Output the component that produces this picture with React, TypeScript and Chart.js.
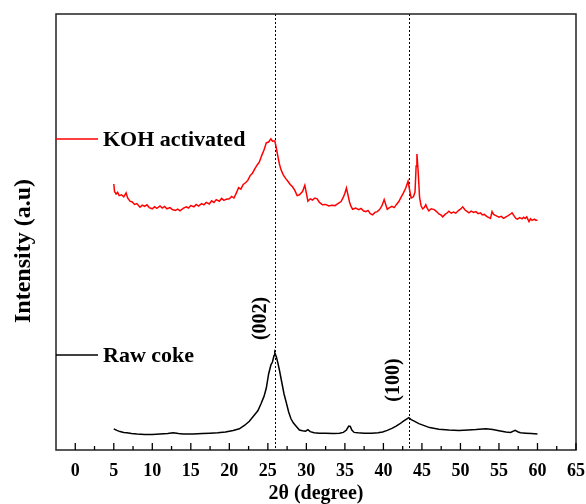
import { useEffect, useRef } from 'react';
import { Chart, registerables } from 'chart.js';

Chart.register(...registerables);

const FONT = "'Liberation Serif', 'Times New Roman', serif";

// X axis ticks (2θ, degree)
const xTickValues = [0, 5, 10, 15, 20, 25, 30, 35, 40, 45, 50, 55, 60, 65];
const xMinorTickValues = [2.5, 7.5, 12.5, 17.5, 22.5, 27.5, 32.5, 37.5, 42.5, 47.5, 52.5, 57.5, 62.5];

// KOH activated series
const kohTheta = [
  5.0, 5.1, 5.3, 5.5, 5.7, 6.0, 6.3, 6.6, 6.8, 7.1, 7.4, 7.7, 8.0, 8.4, 8.7, 9.0, 9.3, 9.6, 10.0, 10.3,
  10.6, 11.0, 11.3, 11.6, 11.9, 12.3, 12.6, 13.0, 13.3, 13.6, 14.0, 14.4, 14.7, 15.0, 15.4, 15.7, 16.0, 16.4, 16.7, 17.0,
  17.4, 17.7, 18.0, 18.3, 18.7, 19.0, 19.3, 19.6, 20.0, 20.3, 20.6, 20.9, 21.2, 21.5, 21.8, 22.1, 22.4, 22.7, 23.0, 23.3,
  23.6, 23.9, 24.2, 24.5, 24.8, 25.1, 25.4, 25.6, 25.9, 26.1, 26.3, 26.5, 26.7, 27.0, 27.3, 27.6, 27.9, 28.2, 28.5, 28.8,
  29.1, 29.5, 29.8, 30.0, 30.2, 30.5, 30.8, 31.1, 31.4, 31.7, 32.1, 32.5, 32.9, 33.3, 33.7, 34.1, 34.5, 34.8, 35.0, 35.2,
  35.4, 35.6, 35.8, 36.0, 36.4, 36.8, 37.1, 37.4, 37.7, 38.0, 38.3, 38.6, 38.9, 39.2, 39.5, 39.8, 40.1, 40.3, 40.5, 40.8,
  41.1, 41.4, 41.7, 42.0, 42.3, 42.6, 42.9, 43.2, 43.4, 43.6, 43.9, 44.1, 44.25, 44.35, 44.5, 44.7, 44.9, 45.1, 45.3, 45.5,
  45.7, 45.9, 46.2, 46.6, 46.9, 47.2, 47.5, 47.7, 48.0, 48.3, 48.5, 48.8, 49.1, 49.4, 49.7, 50.0, 50.3, 50.6, 50.9, 51.1,
  51.4, 51.7, 52.0, 52.3, 52.6, 52.8, 53.1, 53.4, 53.7, 53.9, 54.1, 54.3, 54.6, 55.0, 55.3, 55.6, 55.9, 56.2, 56.5, 56.7,
  57.0, 57.2, 57.4, 57.7, 58.0, 58.2, 58.4, 58.6, 58.9, 59.1, 59.3, 59.6, 59.8, 60.0,
];
const kohIntensity = [
  66.5, 64.6, 64.0, 64.4, 63.6, 63.8, 63.3, 64.3, 63.0, 62.2, 62.0, 61.4, 61.6, 60.7, 61.2, 60.9, 61.3, 60.6, 60.3, 60.8,
  60.4, 61.0, 60.5, 60.9, 60.3, 60.6, 60.1, 59.9, 60.2, 59.8, 60.4, 60.8, 60.5, 61.1, 60.8, 61.4, 61.0, 61.6, 61.3, 61.9,
  61.5, 62.3, 61.9, 62.6, 62.2, 62.9, 62.4, 62.7, 62.8, 63.4, 63.0, 64.2, 65.6, 65.2, 66.4, 66.8, 67.4, 68.6, 69.2, 70.3,
  71.2, 72.0, 73.6, 75.0, 76.8, 77.0, 77.8, 77.2, 77.3, 75.5, 73.4, 71.5, 70.1, 68.8, 67.9, 67.2, 66.4, 65.8, 64.9, 63.6,
  63.8, 64.6, 66.2, 64.2, 62.2, 62.8, 62.5, 63.0, 62.8, 61.9, 61.3, 61.4, 61.0, 61.2, 61.1, 61.6, 62.1, 63.2, 64.2, 65.5,
  63.8, 62.0, 60.9, 60.2, 60.5, 60.1, 60.4, 59.8, 59.6, 59.9, 59.1, 58.8, 59.4, 59.6, 60.1, 61.0, 62.6, 61.4, 60.2, 60.6,
  60.9, 60.6, 61.4, 62.1, 63.2, 64.3, 65.5, 67.2, 65.0, 63.0, 63.3, 64.5, 71.0, 74.0, 70.0, 63.0, 61.0, 60.3, 60.6, 61.3,
  60.4, 59.8, 60.3, 60.1, 59.6, 59.0, 58.7, 58.3, 58.9, 59.3, 59.7, 59.2, 59.5, 59.2, 59.8, 60.2, 60.8, 60.0, 59.6, 59.3,
  59.7, 59.4, 59.6, 59.1, 59.3, 58.8, 58.9, 58.4, 58.1, 57.9, 59.6, 58.9, 58.6, 58.2, 58.4, 57.9, 58.3, 58.6, 59.0, 59.3,
  58.4, 57.9, 57.7, 58.1, 57.8, 58.2, 57.9, 58.3, 57.1, 57.8, 57.4, 57.7, 57.4, 57.5,
];

// Raw coke series
const rawTheta = [
  5.0, 5.4, 5.8, 6.3, 6.7, 7.3, 8.0, 9.0, 10.0, 11.0, 12.0, 12.7, 13.4, 14.0, 15.3, 16.5, 17.5, 18.5, 19.5, 20.5,
  21.3, 22.0, 22.6, 23.2, 23.7, 24.1, 24.5, 24.8, 25.1, 25.4, 25.6, 25.8, 25.9, 26.1, 26.3, 26.5, 26.8, 27.1, 27.4, 27.7,
  28.0, 28.3, 28.7, 29.1, 29.5, 29.9, 30.2, 30.5, 31.0, 31.7, 32.5, 33.5, 34.3, 34.8, 35.2, 35.5, 35.7, 35.9, 36.2, 36.7,
  37.5, 38.5, 39.3, 39.9, 40.5, 41.1, 41.6, 42.1, 42.6, 43.0, 43.3, 43.6, 44.0, 44.6, 45.3, 46.0, 47.2, 48.5, 49.8, 51.0,
  52.0, 53.3, 54.2, 55.0, 55.9, 56.5, 57.1, 57.5, 57.8, 58.5, 59.2, 60.0,
];
const rawIntensity = [
  5.3, 4.9, 4.6, 4.4, 4.3, 4.1, 4.0, 3.9, 3.9, 4.0, 4.1, 4.3, 4.1, 4.0, 4.0, 4.1, 4.2, 4.3, 4.5, 4.9,
  5.3, 6.2, 7.2, 8.6, 9.8, 11.5, 13.4, 15.5, 19.0, 21.3, 22.0, 23.6, 24.3, 23.3, 21.8, 20.0, 17.0, 14.0, 11.8, 9.5,
  7.8, 6.8, 5.9, 5.0, 4.8, 4.7, 5.1, 4.6, 4.3, 4.2, 4.2, 4.1, 4.2, 4.4, 5.0, 6.0, 5.9, 5.0, 4.4, 4.3,
  4.2, 4.2, 4.3, 4.5, 4.9, 5.4, 5.9, 6.5, 7.2, 7.7, 8.1, 7.6, 7.2, 6.6, 6.1, 5.6, 5.2, 5.0, 4.9, 5.0,
  5.1, 5.3, 5.1, 4.8, 4.5, 4.4, 4.9, 4.5, 4.3, 4.2, 4.1, 4.0,
];

// Reflection markers
const peakTheta = [25.9, 43.35];
const peakLabels = ['(002)', '(100)'];
const peakLabelTheta = [24.1, 41.4];
const peakLabelIntensity = [32.9, 17.5];

// In-plot legend rows (intensity level of each legend row)
const legendIntensity = [77.75, 23.75];

const overlayPlugin = {
  id: 'overlay',
  beforeDatasetsDraw(chart: any) {
    const { ctx, chartArea, scales } = chart;
    const xs = scales.x;
    ctx.save();
    ctx.strokeStyle = '#000';
    ctx.lineWidth = 1;
    ctx.setLineDash([2, 2]);
    peakTheta.forEach((t) => {
      const px = Math.round(xs.getPixelForValue(t)) + 0.5;
      ctx.beginPath();
      ctx.moveTo(px, chartArea.top);
      ctx.lineTo(px, chartArea.bottom);
      ctx.stroke();
    });
    ctx.restore();
  },
  afterDraw(chart: any) {
    const { ctx, chartArea, scales } = chart;
    const xs = scales.x;
    const ys = scales.y;
    ctx.save();
    // frame
    ctx.strokeStyle = '#222';
    ctx.lineWidth = 1.5;
    ctx.strokeRect(chartArea.left, chartArea.top, chartArea.right - chartArea.left, chartArea.bottom - chartArea.top);
    // inward ticks on x axis
    ctx.lineWidth = 1.3;
    ctx.strokeStyle = '#000';
    xTickValues.forEach((v) => {
      const px = xs.getPixelForValue(v);
      ctx.beginPath();
      ctx.moveTo(px, chartArea.bottom);
      ctx.lineTo(px, chartArea.bottom - 7);
      ctx.stroke();
    });
    xMinorTickValues.forEach((v) => {
      const px = xs.getPixelForValue(v);
      ctx.beginPath();
      ctx.moveTo(px, chartArea.bottom);
      ctx.lineTo(px, chartArea.bottom - 4);
      ctx.stroke();
    });
    // legend rows
    chart.data.datasets.forEach((ds: any, i: number) => {
      const py = ys.getPixelForValue(legendIntensity[i]);
      ctx.strokeStyle = ds.borderColor;
      ctx.lineWidth = 1.5;
      ctx.beginPath();
      ctx.moveTo(chartArea.left, py);
      ctx.lineTo(chartArea.left + 42, py);
      ctx.stroke();
      ctx.fillStyle = '#000';
      ctx.font = `bold 22px ${FONT}`;
      ctx.textAlign = 'left';
      ctx.textBaseline = 'middle';
      ctx.fillText(ds.label, chartArea.left + 47, py + 1);
    });
    // peak labels
    peakLabels.forEach((lab, i) => {
      const px = xs.getPixelForValue(peakLabelTheta[i]);
      const py = ys.getPixelForValue(peakLabelIntensity[i]);
      ctx.save();
      ctx.translate(px, py);
      ctx.rotate(-Math.PI / 2);
      ctx.fillStyle = '#000';
      ctx.font = `bold 20px ${FONT}`;
      ctx.textAlign = 'center';
      ctx.textBaseline = 'middle';
      ctx.fillText(lab, 0, 0);
      ctx.restore();
    });
    // y axis title
    ctx.save();
    ctx.translate(24, (chartArea.top + chartArea.bottom) / 2 + 19);
    ctx.rotate(-Math.PI / 2);
    ctx.fillStyle = '#000';
    ctx.font = `bold 24px ${FONT}`;
    ctx.textAlign = 'center';
    ctx.textBaseline = 'middle';
    ctx.fillText('Intensity (a.u)', 0, 0);
    ctx.restore();
    ctx.restore();
  },
};

export default function App() {
  const ref = useRef<HTMLCanvasElement>(null);
  useEffect(() => {
    const chart = new Chart(ref.current as HTMLCanvasElement, {
      type: 'line',
      data: {
        datasets: [
          {
            label: 'KOH activated',
            data: kohTheta.map((t, i) => ({ x: t, y: kohIntensity[i] })),
            borderColor: '#ff0000',
            borderWidth: 1.5,
            pointRadius: 0,
            tension: 0,
          },
          {
            label: 'Raw coke',
            data: rawTheta.map((t, i) => ({ x: t, y: rawIntensity[i] })),
            borderColor: '#000000',
            borderWidth: 1.5,
            pointRadius: 0,
            tension: 0,
          },
        ],
      },
      options: {
        responsive: false,
        animation: false,
        layout: { padding: { left: 56, right: 10, top: 14, bottom: 0 } },
        plugins: { legend: { display: false }, tooltip: { enabled: false } },
        scales: {
          x: {
            type: 'linear',
            min: -2.5,
            max: 65,
            afterBuildTicks: (s: any) => {
              s.ticks = xTickValues.map((v) => ({ value: v }));
            },
            afterFit: (s: any) => {
              s.height = 54;
              s.paddingLeft = 0;
              s.paddingRight = 0;
            },
            grid: { display: false, drawTicks: false },
            border: { display: false },
            ticks: {
              color: '#000',
              padding: 11,
              maxRotation: 0,
              autoSkip: false,
              font: { family: FONT, size: 18, weight: 'bold' },
            },
            title: {
              display: true,
              text: '2θ (degree)',
              color: '#000',
              padding: { top: 0, bottom: -2 },
              font: { family: FONT, size: 20, weight: 'bold' },
            },
          },
          y: { display: false, min: 0, max: 109 },
        },
      },
      plugins: [overlayPlugin],
    } as any);
    return () => chart.destroy();
  }, []);
  return (
    <div style={{ position: 'fixed', left: 0, top: 0, width: 586, height: 504 }}>
      <canvas ref={ref} width={586} height={504} style={{ display: 'block' }} />
    </div>
  );
}
